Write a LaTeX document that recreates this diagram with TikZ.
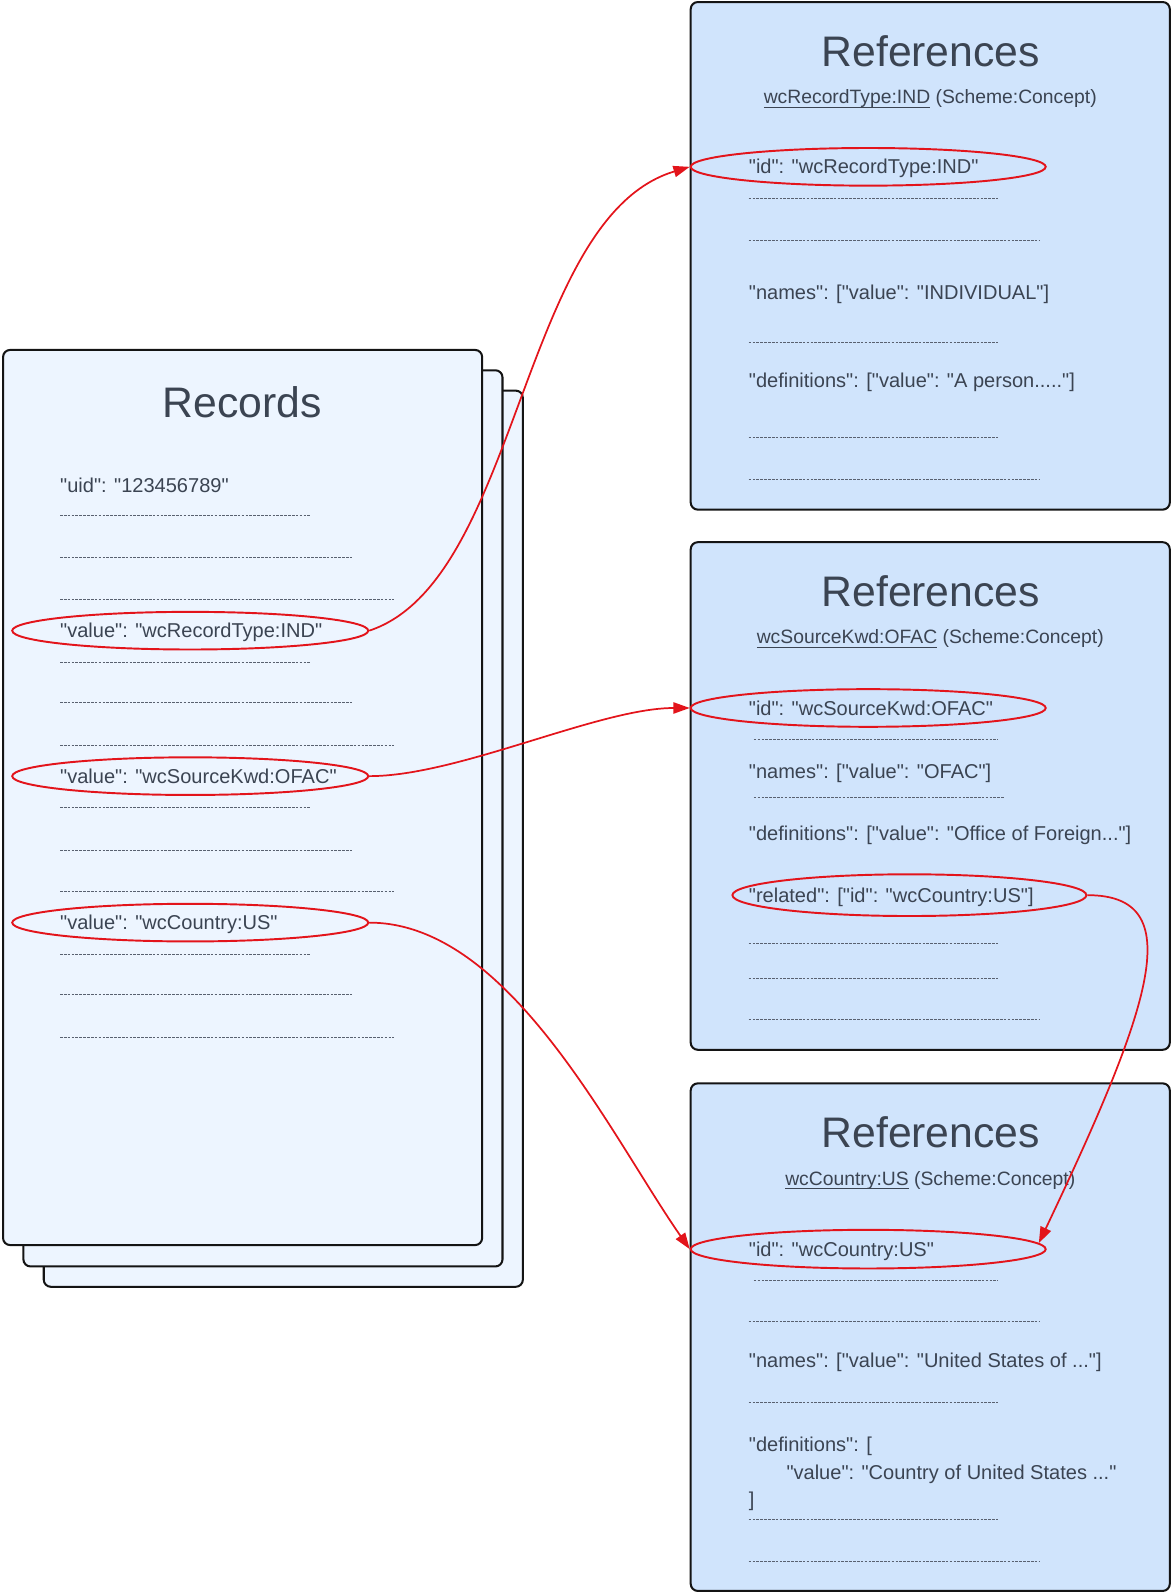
\documentclass[tikz,border=0pt]{standalone}
\usepackage{fontspec}
\setmainfont{Liberation Sans}[Ligatures=TeXOff]
\usetikzlibrary{shapes.geometric,arrows.meta}
\definecolor{txt}{HTML}{3B4452}
\definecolor{recfill}{HTML}{EDF5FF}
\definecolor{reffill}{HTML}{D0E4FC}
\definecolor{hl}{HTML}{E3141B}
\definecolor{sepc}{HTML}{596170}
\newcommand\myul[1]{\setbox0\hbox{#1}\rlap{\rule[-4pt]{\wd0}{1.1pt}}\box0\relax}
\begin{document}
\begin{tikzpicture}[x=1pt,y=-1pt,
  card/.style={draw=black!92, line width=2pt, rounded corners=7pt},
  body/.style={anchor=base west, inner sep=0pt, text=txt, font=\fontsize{19.7}{22}\selectfont},
  ttl/.style={anchor=base, inner sep=0pt, text=txt, font=\fontsize{42}{48}\selectfont},
  sub/.style={anchor=base, inner sep=0pt, text=txt, font=\fontsize{19}{22}\selectfont},
  hole/.style={ellipse, draw=hl, line width=1.9pt, inner sep=0pt},
  arr/.style={draw=hl, line width=1.7pt, -{Triangle[length=16pt,width=11pt]}},
  sep/.style={draw=sepc, line width=0.85pt, dash pattern=on 2.6pt off 1.2pt}]
\useasboundingbox (0,0) rectangle (1156,1568);

% ---------- Records stack ----------
\draw[card, fill=recfill] (43,384) rectangle (514,1265);
\draw[card, fill=recfill] (23,364) rectangle (494,1245);
\draw[card, fill=recfill] (3,344) rectangle (474,1224);

\node[ttl] (rtitle) at (238,410) {Records};
\node[body] (uid) at (59,484) {"uid": "123456789"};
\draw[sep] (59,507) -- (305,507);
\draw[sep] (59,548) -- (346,548);
\draw[sep] (59,589) -- (387,589);
\node[body] (v1) at (59,627) {"value": "wcRecordType:IND"};
\node[hole, minimum width=350pt, minimum height=37pt] (e1) at (187,620) {};
\draw[sep] (59,651) -- (305,651);
\draw[sep] (59,691) -- (346,691);
\draw[sep] (59,733) -- (387,733);
\node[body] (v2) at (59,770) {"value": "wcSourceKwd:OFAC"};
\node[hole, minimum width=350pt, minimum height=37pt] (e2) at (187,763) {};
\draw[sep] (59,794) -- (305,794);
\draw[sep] (59,836) -- (346,836);
\draw[sep] (59,876) -- (387,876);
\node[body] (v3) at (59,914) {"value": "wcCountry:US"};
\node[hole, minimum width=350pt, minimum height=37pt] (e3) at (187,907) {};
\draw[sep] (59,938) -- (305,938);
\draw[sep] (59,978) -- (346,978);
\draw[sep] (59,1020) -- (387,1020);

% ---------- Reference 1 ----------
\draw[card, fill=reffill] (679,2) rectangle (1150,501);
\node[ttl] (t1) at (915,65) {References};
\node[sub] (s1) at (914.5,102) {\myul{wcRecordType:IND} (Scheme:Concept)};
\node[body] (id1) at (736,171) {"id": "wcRecordType:IND"};
\node[hole, minimum width=349pt, minimum height=37pt] (r1id) at (853.5,164) {};
\draw[sep] (736,195) -- (981,195);
\draw[sep] (736,236) -- (1022,236);
\node[body] (n1) at (736,294) {"names": ["value": "INDIVIDUAL"]};
\draw[sep] (736,337) -- (981,337);
\node[body] (d1) at (736,381) {"definitions": ["value": "A person....."]};
\draw[sep] (736,430) -- (981,430);
\draw[sep] (736,471) -- (1022,471);

% ---------- Reference 2 ----------
\draw[card, fill=reffill] (679,533) rectangle (1150,1032);
\node[ttl] (t2) at (915,596) {References};
\node[sub] (s2) at (914.5,633) {\myul{wcSourceKwd:OFAC} (Scheme:Concept)};
\node[body] (id2) at (736,703) {"id": "wcSourceKwd:OFAC"};
\node[hole, minimum width=349pt, minimum height=37pt] (r2id) at (853.5,696) {};
\draw[sep] (741,727) -- (981,727);
\node[body] (n2) at (736,765) {"names": ["value": "OFAC"]};
\draw[sep] (741,784) -- (987,784);
\node[body] (d2) at (736,826) {"definitions": ["value": "Office of Foreign..."]};
\node[body] (rel2) at (736,887) {"related": ["id": "wcCountry:US"]};
\node[hole, minimum width=348pt, minimum height=41pt] (r2rel) at (894,880) {};
\draw[sep] (736,927) -- (981,927);
\draw[sep] (736,962) -- (981,962);
\draw[sep] (736,1002) -- (1022,1002);

% ---------- Reference 3 ----------
\draw[card, fill=reffill] (679,1065) rectangle (1150,1564);
\node[ttl] (t3) at (915,1128) {References};
\node[sub] (s3) at (914.5,1165) {\myul{wcCountry:US} (Scheme:Concept)};
\node[body] (id3) at (736,1235) {"id": "wcCountry:US"};
\node[hole, minimum width=349pt, minimum height=38pt] (r3id) at (853.5,1228) {};
\draw[sep] (741,1259) -- (981,1259);
\draw[sep] (736,1299) -- (1022,1299);
\node[body] (n3) at (736,1344) {"names": ["value": "United States of ..."]};
\draw[sep] (736,1379) -- (981,1379);
\node[body] (d3a) at (736,1427) {"definitions": [};
\node[body] (d3b) at (773,1454) {"value": "Country of United States ..."};
\node[body] (d3c) at (736,1481) {]};
\draw[sep] (736,1494) -- (981,1494);
\draw[sep] (736,1535) -- (1022,1535);

% ---------- Connectors ----------
\draw[arr] (e1.east) .. controls +(148,-49) and +(-167,50) .. (r1id.west);
\draw[arr] (e2.east) .. controls +(88,0) and +(-89,0) .. (r2id.west);
\draw[arr] (e3.east) .. controls +(138,0) and +(-78,-112) .. (r3id.west);
\draw[arr] (r2rel.east) .. controls +(100,0) and +(112,-236) .. (r3id.2.5);
\end{tikzpicture}
\end{document}
